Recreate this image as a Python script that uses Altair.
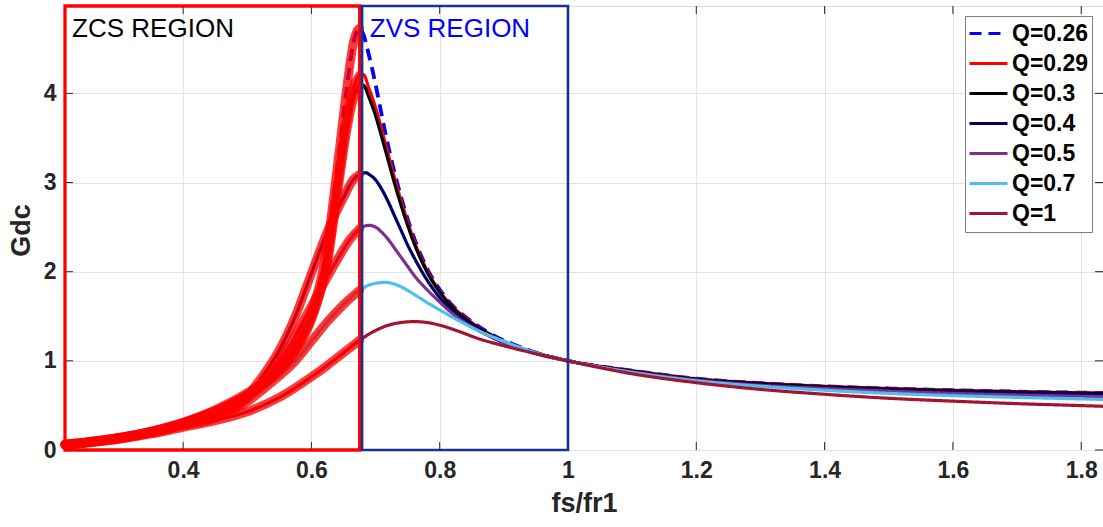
import altair as alt
import pandas as pd

# ---------------- data ----------------
X_MIN, X_MAX = 0.2159, 1.834
Y_MAX = 4.98
X_TICKS = [0.4, 0.6, 0.8, 1.0, 1.2, 1.4, 1.6, 1.8]
Y_TICKS = [0, 1, 2, 3, 4]

LABELS = ["Q=0.26", "Q=0.29", "Q=0.3", "Q=0.4", "Q=0.5", "Q=0.7", "Q=1"]
COLORS = ["#0000FF", "#FF0000", "#000000", "#000066", "#7E2F8E", "#4DBEEE", "#A2142F"]
DASHES = [[12, 7], [1, 0], [1, 0], [1, 0], [1, 0], [1, 0], [1, 0]]

TAIL_X = [1.1, 1.2, 1.3, 1.4, 1.5, 1.6, 1.7, 1.8, 1.834]

Q026_X = [0.2159, 0.25, 0.30, 0.35, 0.40, 0.45, 0.50, 0.525, 0.55, 0.575, 0.60, 0.615,
          0.625, 0.635, 0.645, 0.655, 0.665, 0.672, 0.675, 0.68, 0.69, 0.70, 0.71, 0.72,
          0.73, 0.74, 0.75, 0.76, 0.78, 0.80, 0.82, 0.85, 0.88, 0.92, 0.96, 1.0] + TAIL_X
Q026_Y = [0.065, 0.09, 0.14, 0.21, 0.31, 0.45, 0.64, 0.76, 0.92, 1.17, 1.55, 1.92,
          2.30, 2.85, 3.45, 4.05, 4.55, 4.71, 4.73, 4.68, 4.42, 4.10, 3.74, 3.40,
          3.10, 2.83, 2.59, 2.38, 2.04, 1.80, 1.62, 1.44, 1.30, 1.17, 1.07, 1.0,
          0.89, 0.80, 0.75, 0.715, 0.69, 0.67, 0.655, 0.643, 0.64]

Q029_X = [0.2159, 0.25, 0.30, 0.35, 0.40, 0.45, 0.50, 0.525, 0.55, 0.575, 0.60, 0.615,
          0.625, 0.635, 0.645, 0.655, 0.665, 0.675, 0.681, 0.69, 0.70, 0.71, 0.72,
          0.73, 0.74, 0.75, 0.76, 0.78, 0.80, 0.82, 0.85, 0.88, 0.92, 0.96, 1.0] + TAIL_X
Q029_Y = [0.064, 0.089, 0.138, 0.208, 0.305, 0.44, 0.62, 0.74, 0.90, 1.13, 1.48, 1.82,
          2.15, 2.65, 3.20, 3.70, 4.05, 4.20, 4.21, 4.05, 3.84, 3.58, 3.31,
          3.04, 2.79, 2.56, 2.35, 2.02, 1.78, 1.61, 1.43, 1.29, 1.16, 1.07, 1.0,
          0.89, 0.80, 0.75, 0.715, 0.69, 0.67, 0.655, 0.643, 0.64]

Q03_X = Q029_X
Q03_Y = [0.063, 0.088, 0.137, 0.206, 0.30, 0.435, 0.61, 0.73, 0.89, 1.11, 1.46, 1.79,
         2.10, 2.58, 3.10, 3.58, 3.93, 4.07, 4.09, 3.95, 3.75, 3.50, 3.24,
         2.98, 2.74, 2.52, 2.32, 2.00, 1.77, 1.60, 1.42, 1.29, 1.16, 1.07, 1.0,
         0.885, 0.795, 0.745, 0.71, 0.685, 0.665, 0.65, 0.638, 0.635]

Q04_X = [0.2159, 0.25, 0.30, 0.35, 0.40, 0.45, 0.50, 0.525, 0.55, 0.575, 0.60, 0.625,
         0.65, 0.665, 0.675, 0.685, 0.69, 0.70, 0.71, 0.72, 0.73, 0.74, 0.75, 0.76,
         0.78, 0.80, 0.82, 0.85, 0.88, 0.92, 0.96, 1.0] + TAIL_X
Q04_Y = [0.06, 0.085, 0.133, 0.20, 0.29, 0.42, 0.61, 0.84, 1.12, 1.50, 1.98, 2.45,
         2.83, 3.03, 3.09, 3.11, 3.09, 3.03, 2.92, 2.78, 2.62, 2.46, 2.30, 2.16,
         1.91, 1.71, 1.56, 1.40, 1.27, 1.15, 1.07, 1.0,
         0.88, 0.79, 0.735, 0.70, 0.675, 0.655, 0.64, 0.628, 0.625]

Q05_X = [0.2159, 0.25, 0.30, 0.35, 0.40, 0.45, 0.49, 0.515, 0.54, 0.565, 0.59, 0.615,
         0.64, 0.66, 0.675, 0.69, 0.70, 0.71, 0.72, 0.73, 0.74, 0.75, 0.76, 0.78,
         0.80, 0.82, 0.85, 0.88, 0.92, 0.96, 1.0] + TAIL_X
Q05_Y = [0.058, 0.083, 0.13, 0.198, 0.285, 0.39, 0.52, 0.69, 0.91, 1.16, 1.48, 1.81,
         2.13, 2.36, 2.48, 2.52, 2.50, 2.44, 2.36, 2.26, 2.16, 2.06, 1.96, 1.80,
         1.66, 1.53, 1.38, 1.27, 1.15, 1.06, 1.0,
         0.875, 0.785, 0.725, 0.69, 0.66, 0.635, 0.617, 0.603, 0.598]

Q07_X = [0.2159, 0.25, 0.30, 0.35, 0.40, 0.45, 0.50, 0.525, 0.55, 0.575, 0.60, 0.625,
         0.65, 0.675, 0.69, 0.70, 0.715, 0.73, 0.75, 0.77, 0.80, 0.83, 0.86, 0.90,
         0.95, 1.0] + TAIL_X
Q07_Y = [0.056, 0.08, 0.125, 0.19, 0.275, 0.36, 0.54, 0.68, 0.83, 1.0, 1.22, 1.44,
         1.63, 1.79, 1.85, 1.87, 1.88, 1.86, 1.79, 1.70, 1.57, 1.45, 1.34, 1.22,
         1.09, 1.0,
         0.87, 0.775, 0.715, 0.67, 0.635, 0.61, 0.59, 0.573, 0.567]

Q1_X = [0.2159, 0.25, 0.30, 0.35, 0.40, 0.45, 0.50, 0.55, 0.60, 0.625, 0.65, 0.675,
        0.70, 0.72, 0.74, 0.76, 0.78, 0.80, 0.83, 0.86, 0.90, 0.95, 1.0] + TAIL_X
Q1_Y = [0.054, 0.078, 0.12, 0.18, 0.255, 0.33, 0.43, 0.59, 0.82, 0.95, 1.09, 1.23,
        1.34, 1.40, 1.43, 1.44, 1.43, 1.40, 1.33, 1.25, 1.17, 1.08, 1.0,
        0.855, 0.755, 0.68, 0.625, 0.58, 0.548, 0.52, 0.498, 0.49]

ZCS_END = 0.6755
BOX_X1 = [X_MIN, 0.679]
BOX_X2 = [0.6753, 1.0]
BOX_COLORS = ["#FF0000", "#1C3090"]
BOX_WIDTHS = [3.3, 2.6]

TXT = ["ZCS REGION", "ZVS REGION"]
TXT_X = [0.227, 0.691]
TXT_COLORS = ["#000000", "#0000FF"]

# ---------------- table ----------------
series = [Q026_X, Q029_X, Q03_X, Q04_X, Q05_X, Q07_X, Q1_X]
values = [Q026_Y, Q029_Y, Q03_Y, Q04_Y, Q05_Y, Q07_Y, Q1_Y]
rows = []
for lab, xs, ys in zip(LABELS, series, values):
    for i, (a, b) in enumerate(zip(xs, ys)):
        rows.append({"label": lab, "x": a, "y": b, "i": i})
df = pd.DataFrame(rows)

W, H = 1038, 444
FONT = "Liberation Sans"
AX = "#262626"

xs_ = alt.Scale(domain=[X_MIN, X_MAX], nice=False, zero=False)
ys_ = alt.Scale(domain=[0, Y_MAX], nice=False, zero=False)

x_axis = alt.Axis(values=X_TICKS, format="~g", labelFont=FONT, labelFontSize=23,
                  labelFontWeight="bold", labelColor=AX, labelPadding=9, ticks=False,
                  domain=False, grid=True, gridColor="#E3E3E3", gridWidth=1,
                  title="fs/fr1", titleFont=FONT, titleFontSize=27, titleFontWeight="bold",
                  titleColor=AX, titleY=53, titleBaseline="middle")
y_axis = alt.Axis(values=Y_TICKS, format="d", labelFont=FONT, labelFontSize=23,
                  labelFontWeight="bold", labelColor=AX, labelPadding=9, ticks=False,
                  domain=False, grid=True, gridColor="#E3E3E3", gridWidth=1,
                  title="Gdc", titleFont=FONT, titleFontSize=27, titleFontWeight="bold",
                  titleColor=AX, titleX=-44, titleY=224, titleAngle=270,
                  titleAlign="center", titleBaseline="middle")

leg = alt.Legend(title=None, orient="none", legendX=900, legendY=10,
                 symbolType="stroke", symbolSize=1444, symbolStrokeWidth=3,
                 clipHeight=29.2, labelFont=FONT, labelFontWeight="bold",
                 labelFontSize=23, labelColor="#000000", labelOffset=3, padding=3,
                 rowPadding=0, strokeColor="#7F7F7F", fillColor="#FFFFFF", cornerRadius=0)

color_enc = alt.Color("label:N", scale=alt.Scale(domain=LABELS, range=COLORS), legend=leg)
dash_enc = alt.StrokeDash("label:N", scale=alt.Scale(domain=LABELS, range=DASHES), legend=leg)


def X(field):
    return alt.X(field, scale=xs_, axis=x_axis)


def Y(field):
    return alt.Y(field, scale=ys_, axis=y_axis)


layers = []
for k, lab in enumerate(LABELS):
    layers.append(
        alt.Chart(df).transform_filter(alt.datum.label == lab)
        .mark_line(strokeWidth=3.2 if lab != "Q=0.26" else 3.8, interpolate="monotone")
        .encode(x=X("x:Q"), y=Y("y:Q"), color=color_enc, strokeDash=dash_enc, order="i:Q")
    )

overlay = (
    alt.Chart(df).transform_filter(alt.datum.x <= ZCS_END)
    .mark_line(color="#FF0000", strokeWidth=9, opacity=0.78, strokeCap="round",
               interpolate="monotone")
    .encode(x=X("x:Q"), y=Y("y:Q"), detail="label:N", order="i:Q")
)

box_df = pd.DataFrame({"x": BOX_X1, "x2": BOX_X2, "c": BOX_COLORS, "w": BOX_WIDTHS,
                       "y": [0, 0], "y2": [Y_MAX, Y_MAX]})
boxes = alt.Chart(box_df).mark_rect(fillOpacity=0).encode(
    x=X("x:Q"), x2="x2:Q", y=Y("y:Q"), y2="y2:Q",
    stroke=alt.Color("c:N", scale=None), strokeWidth=alt.StrokeWidth("w:Q", scale=None),
)

txt_df = pd.DataFrame({"x": TXT_X, "y": [4.87, 4.87], "t": TXT, "c": TXT_COLORS})
texts = alt.Chart(txt_df).mark_text(align="left", baseline="top", font=FONT, fontSize=26).encode(
    x=X("x:Q"), y=Y("y:Q"), text="t:N", color=alt.Color("c:N", scale=None),
)

xt = pd.DataFrame({"x": X_TICKS})
yt = pd.DataFrame({"y": Y_TICKS})
tick_b = alt.Chart(xt).mark_rule(color=AX, strokeWidth=1).encode(
    x=X("x:Q"), y=alt.value(H), y2=alt.value(H - 8))
tick_t = alt.Chart(xt).mark_rule(color=AX, strokeWidth=1).encode(
    x=X("x:Q"), y=alt.value(0), y2=alt.value(8))
tick_l = alt.Chart(yt).mark_rule(color=AX, strokeWidth=1).encode(
    y=Y("y:Q"), x=alt.value(0), x2=alt.value(8))
tick_r = alt.Chart(yt).mark_rule(color=AX, strokeWidth=1).encode(
    y=Y("y:Q"), x=alt.value(W), x2=alt.value(W - 8))

chart = alt.layer(*layers, overlay, tick_b, tick_t, tick_l, tick_r, boxes, texts).properties(
    width=W, height=H, autosize="none",
    padding={"left": 65, "top": 6, "right": 0, "bottom": 77},
).configure_view(stroke=AX, strokeWidth=1).configure(background="white")

chart.save("out.html", embed_options={"renderer": "svg", "actions": False})
